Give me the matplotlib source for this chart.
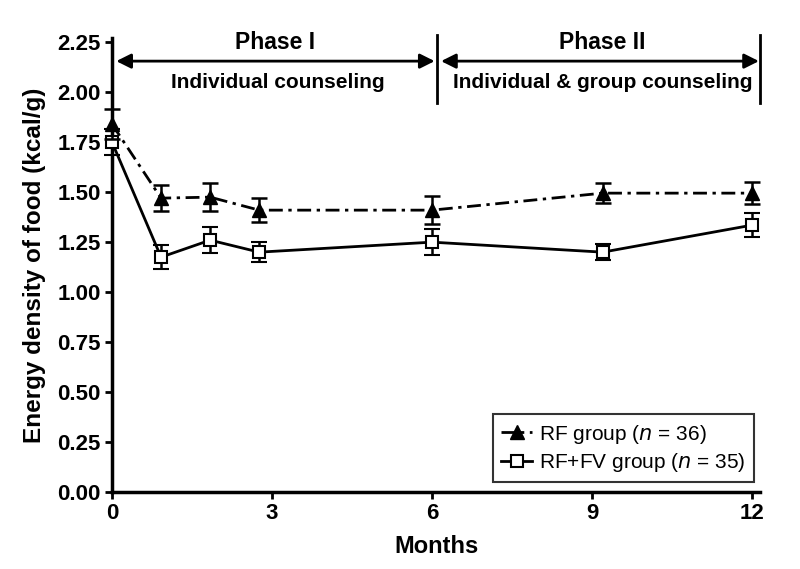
import numpy as np
import matplotlib
matplotlib.use('Agg')
import matplotlib.pyplot as plt
from matplotlib.lines import Line2D

plt.rcParams['font.family'] = ['Liberation Sans', 'DejaVu Sans']

# months (weeks converted: 4, 8, 12 wk, 6 mo, 40 wk, 12 mo)
months = [0, 0.92, 1.84, 2.76, 6, 9.2, 12]

rf_mean = [1.84, 1.47, 1.475, 1.41, 1.41, 1.495, 1.495]
rf_err = [0.075, 0.065, 0.07, 0.06, 0.07, 0.05, 0.055]

rffv_mean = [1.75, 1.175, 1.26, 1.20, 1.25, 1.20, 1.335]
rffv_err = [0.065, 0.06, 0.065, 0.05, 0.065, 0.04, 0.06]

yticks = [0.00, 0.25, 0.50, 0.75, 1.00, 1.25, 1.50, 1.75, 2.00, 2.25]
xticks = [0, 3, 6, 9, 12]

rf_style = dict(color='black', lw=2, linestyle=(0, (5, 2, 1.2, 2)), marker='^',
                markersize=10, markerfacecolor='black')
rffv_style = dict(color='black', lw=2, linestyle='-', marker='s', markersize=9,
                  markerfacecolor='white', markeredgewidth=1.5)

fig = plt.figure(figsize=(8, 5.69), dpi=100)
ax = fig.add_axes([0.14, 0.135, 0.81, 0.798])

ax.errorbar(months, rf_mean, yerr=rf_err, capsize=5.5, capthick=1.8,
            elinewidth=1.8, clip_on=False, zorder=4, **rf_style)
ax.errorbar(months, rffv_mean, yerr=rffv_err, capsize=5.5, capthick=1.8,
            elinewidth=1.8, clip_on=False, zorder=3, **rffv_style)

ax.set_xlim(0, 12.15)
ax.set_ylim(0, 2.27)
ax.set_xticks(xticks)
ax.set_yticks(yticks)
ax.set_yticklabels(['%.2f' % v for v in yticks])
ax.tick_params(direction='out', length=5, width=2, labelsize=16, pad=3)
for lab in ax.get_xticklabels() + ax.get_yticklabels():
    lab.set_fontweight('bold')
ax.spines['top'].set_visible(False)
ax.spines['right'].set_visible(False)
ax.spines['left'].set_linewidth(2.5)
ax.spines['bottom'].set_linewidth(2.5)

ax.set_xlabel('Months', fontsize=17, fontweight='bold', labelpad=8)
ax.set_ylabel('Energy density of food (kcal/g)', fontsize=17.5, fontweight='bold', labelpad=8)

# phase annotations
for x0 in [6.1, 12.15]:
    ax.plot([x0, x0], [1.945, 2.285], color='black', lw=2, clip_on=False)
arrow = dict(arrowstyle='<|-|>', color='black', lw=2, mutation_scale=22,
             shrinkA=0, shrinkB=0)
ax.annotate('', xy=(0.08, 2.155), xytext=(6.05, 2.155), arrowprops=arrow,
            annotation_clip=False)
ax.annotate('', xy=(6.17, 2.155), xytext=(12.13, 2.155), arrowprops=arrow,
            annotation_clip=False)
ax.text(3.05, 2.25, 'Phase I', ha='center', va='center', fontsize=16.5, fontweight='bold')
ax.text(9.2, 2.25, 'Phase II', ha='center', va='center', fontsize=16.5, fontweight='bold')
ax.text(3.1, 2.05, 'Individual counseling', ha='center', va='center', fontsize=15, fontweight='bold')
ax.text(9.2, 2.05, 'Individual & group counseling', ha='center', va='center', fontsize=15, fontweight='bold')

handles = [Line2D([], [], **rf_style), Line2D([], [], **rffv_style)]
labels = ['RF group ($\\it{n}$ = 36)', 'RF+FV group ($\\it{n}$ = 35)']
leg = ax.legend(handles, labels, loc='lower right', bbox_to_anchor=(0.99, 0.022),
                fontsize=15, frameon=True, fancybox=False, edgecolor='black',
                handlelength=1.5, handletextpad=0.3, borderpad=0.4, labelspacing=0.25,
                borderaxespad=0)
leg.get_frame().set_linewidth(1.5)

fig.savefig('out.png', dpi=100)
